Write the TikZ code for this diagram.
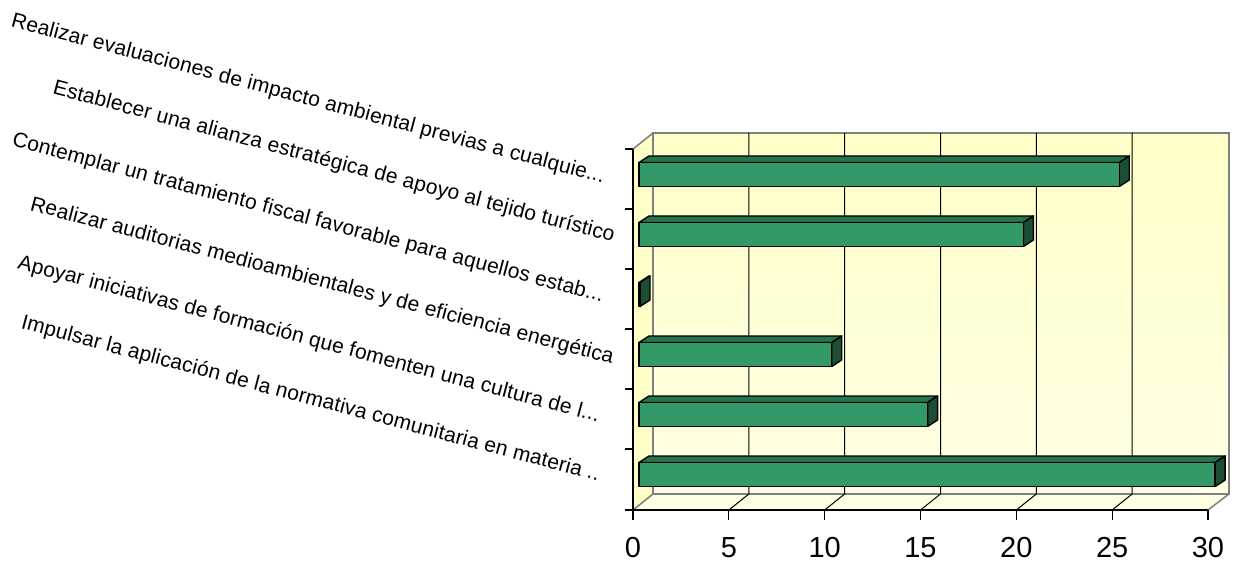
\documentclass[tikz,border=0pt]{standalone}
\usepackage{fontspec}
\setmainfont{Liberation Sans}
\newfontfamily\catfont[LetterSpace=0.8]{Liberation Sans}
\definecolor{grf}{RGB}{51,153,102}
\definecolor{grt}{RGB}{39,115,77}
\definecolor{grs}{RGB}{29,77,52}
\definecolor{yex}{RGB}{255,255,200}
\definecolor{yel}{RGB}{255,255,228}
\colorlet{gax}{black!50}
\tikzset{
    catlab/.style={anchor=base east,inner sep=0pt,rotate=-14.8,font=\catfont\fontsize{21}{21}\selectfont},
    ticklab/.style={inner sep=0pt,font=\fontsize{29}{29}\selectfont},
    wall/.style={gax,line width=1.5pt},
    barf/.style={draw=black,line width=1.4pt,line join=round}
}

\begin{document}
\begin{tikzpicture}[x=1pt,y=-1pt]
    \useasboundingbox (0,0) rectangle (1240,564);
    \coordinate (O) at (633,510);
    \coordinate (Ytop) at (633,149);
    \coordinate (Xend) at (1208,510);
    \coordinate (Bl) at (653,494);
    \coordinate (Br) at (1229,494);
    \coordinate (Tl) at (653,133);
    \coordinate (Tr) at (1229,133);
    \fill[yel] (O) -- (Bl) -- (Br) -- (Xend) -- cycle;
    \fill[yex] (O) -- (Ytop) -- (Tl) -- (Bl) -- cycle;
    \shade[top color=yex,bottom color=yel] (Tl) rectangle (Br);
    \draw[wall] (Bl) -- (Tl) -- (Tr) -- (Br) -- cycle;
    \draw[wall] (Ytop) -- (Tl);
    \draw[wall] (O) -- (Bl);
    \draw[wall] (Xend) -- (Br);
    \foreach \k in {1,...,5} {
        \draw[black,line width=1pt] (633+95.83*\k,510) -- (653+95.83*\k,494) -- (653+95.83*\k,133);
    }
    \foreach \v [count=\i] in {25,20,0,10,15,30} {
        \pgfmathsetmacro{\yt}{149+60*(\i-1)+30-4.5-12}
        \pgfmathsetmacro{\xr}{640+19.17*\v}
        \filldraw[barf,fill=grt] (639,\yt) -- (649,\yt-6.5) -- (\xr+10,\yt-6.5) -- (\xr,\yt) -- cycle;
        \filldraw[barf,fill=grs] (\xr,\yt) -- (\xr+10,\yt-6.5) -- (\xr+10,\yt+17.5) -- (\xr,\yt+24) -- cycle;
        \filldraw[barf,fill=grf] (639,\yt) rectangle (\xr,\yt+24);
    }
    \draw[black,line width=1.2pt] (Ytop) -- (O) -- (Xend);
    \draw[black,line width=1.2pt] (625,510) -- (O);
    \foreach \j in {0,...,5} {
        \draw[black,line width=1.2pt] (625,149+60*\j) -- (633,149+60*\j);
    }
    \foreach \n [count=\k from 0] in {0,5,...,30} {
        \draw[black,line width=1.2pt] (633+95.83*\k,510) -- (633+95.83*\k,520);
        \node[ticklab] (t\k) at (633+95.83*\k,548) {\n};
    }
    \node[catlab] (c1) at (603,183) {Realizar evaluaciones de impacto ambiental previas a cualquie...};
    \node[catlab] (c2) at (613,242) {Establecer una alianza estratégica de apoyo al tejido turístico};
    \node[catlab] (c3) at (602,302) {Contemplar un tratamiento fiscal favorable para aquellos estab...};
    \node[catlab] (c4) at (612,364) {Realizar auditorias medioambientales y de eficiencia energética};
    \node[catlab] (c5) at (598,422) {Apoyar iniciativas de formación que fomenten una cultura de l...};
    \node[catlab] (c6) at (598,481) {Impulsar la aplicación de la normativa comunitaria en materia ..};
\end{tikzpicture}
\end{document}
